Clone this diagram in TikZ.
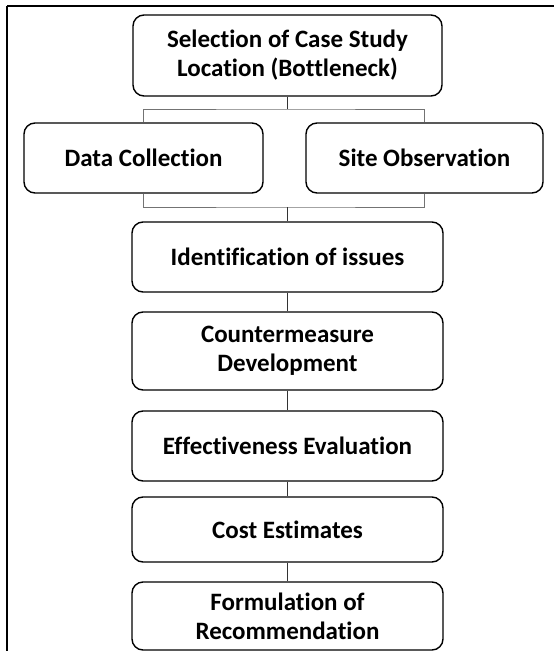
\documentclass[tikz,border=0pt]{standalone}
\usepackage{fontspec}
\setmainfont[Ligatures=NoCommon]{Carlito}
\begin{document}
\begin{tikzpicture}[x=1pt,y=-1pt,
  stepbox/.style={draw=black,line width=1.4pt,rounded corners=11pt,fill=white,
    inner sep=0pt,align=center,text=black,
    font=\fontsize{25}{29}\selectfont\bfseries},
  conn/.style={draw=black!80,line width=1pt},
  branch/.style={draw=black!55,line width=1pt},
  frame/.style={draw=black,line width=2.2pt}]
\useasboundingbox (0,0) rectangle (554,651);
\clip (0,0) rectangle (554,651);
\fill[white] (0,0) rectangle (554,651);
\draw[frame] (7,6) -- (600,6);
\draw[frame] (7,6) -- (7,700);
% nodes
\node[stepbox,minimum width=309pt,minimum height=81pt] (top) at (287.5,55.5) {Selection of Case Study\\Location (Bottleneck)};
\node[stepbox,minimum width=239pt,minimum height=70pt] (dc) at (143.5,158) {Data Collection};
\node[stepbox,minimum width=237pt,minimum height=70pt] (so) at (424.5,158) {Site Observation};
\node[stepbox,minimum width=311pt,minimum height=70pt] (iss) at (287.5,257) {Identification of issues};
\node[stepbox,minimum width=311pt,minimum height=78pt] (cm) at (287.5,351) {Countermeasure\\Development};
\node[stepbox,minimum width=311pt,minimum height=70pt] (ee) at (287.5,446) {Effectiveness Evaluation};
\node[stepbox,minimum width=311pt,minimum height=65pt] (ce) at (287.5,529.5) {Cost Estimates};
\node[stepbox,minimum width=311pt,minimum height=68pt] (fr) at (287.5,616) {Formulation of\\Recommendation};
% connectors
\coordinate (b1) at (287.5,109);
\coordinate (b2) at (287.5,207);
\draw[branch] (dc.north) |- (b1) -| (so.north);
\draw[branch] (dc.south) |- (b2) -| (so.south);
\draw[conn] (top.south) -- (b1);
\draw[conn] (b2) -- (iss.north);
\draw[conn] (iss.south) -- (cm.north);
\draw[conn] (cm.south) -- (ee.north);
\draw[conn] (ee.south) -- (ce.north);
\draw[conn] (ce.south) -- (fr.north);
\end{tikzpicture}
\end{document}
